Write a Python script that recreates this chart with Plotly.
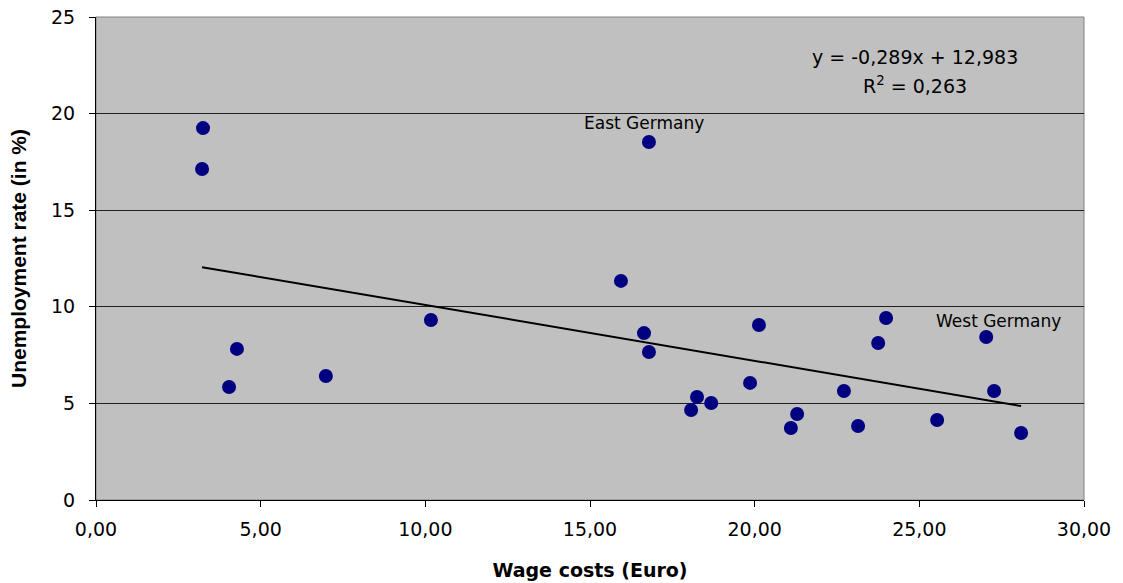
import numpy as np
import plotly.graph_objects as go

# Data
wage_costs = [3.25, 3.22, 4.04, 4.28, 6.98, 10.17, 15.94, 16.79, 16.64, 16.79,
              18.07, 18.25, 18.68, 19.86, 20.13, 21.10, 21.29, 22.71, 23.14, 23.75,
              23.99, 25.54, 27.03, 27.27, 28.09]
unemployment = [19.25, 17.13, 5.85, 7.82, 6.42, 9.32, 11.34, 18.53, 8.64, 7.66,
                4.66, 5.33, 5.02, 6.06, 9.06, 3.73, 4.45, 5.64, 3.83, 8.13,
                9.42, 4.14, 8.44, 5.64, 3.47]
trend_slope = -0.289
trend_intercept = 12.983
x_ticks = [0, 5, 10, 15, 20, 25, 30]
x_tick_labels = ["0,00", "5,00", "10,00", "15,00", "20,00", "25,00", "30,00"]
y_ticks = [0, 5, 10, 15, 20, 25]
labels = {"East Germany": (16.64, 19.51), "West Germany": (27.39, 9.27)}

fig = go.Figure()

fig.add_trace(go.Scatter(
    x=wage_costs, y=unemployment, mode="markers",
    marker=dict(color="#000080", size=14, line=dict(width=0)),
    showlegend=False, hoverinfo="x+y"))

tx = np.array([min(wage_costs), max(wage_costs)])
fig.add_trace(go.Scatter(
    x=tx, y=trend_slope * tx + trend_intercept, mode="lines",
    line=dict(color="black", width=2), showlegend=False, hoverinfo="skip"))

font_main = "DejaVu Sans, Arial, sans-serif"

fig.add_annotation(x=24.87, y=22.93, xref="x", yref="y",
                   text="y = -0,289x + 12,983", showarrow=False,
                   font=dict(family=font_main, size=19, color="black"))
fig.add_annotation(x=24.87, y=21.48, xref="x", yref="y",
                   text="R<sup>2</sup> = 0,263", showarrow=False,
                   font=dict(family=font_main, size=19, color="black"))
for name, (lx, ly) in labels.items():
    fig.add_annotation(x=lx, y=ly, xref="x", yref="y", text=name, showarrow=False,
                       font=dict(family=font_main, size=17, color="black"))

fig.add_shape(type="rect", xref="paper", yref="paper", x0=0, y0=0, x1=1, y1=1,
              line=dict(color="#808080", width=1), layer="below")

fig.update_layout(
    width=1123, height=583,
    margin=dict(l=96, r=39, t=17, b=83),
    paper_bgcolor="white", plot_bgcolor="#C0C0C0",
    xaxis=dict(range=[0, 30], tickvals=x_ticks, ticktext=x_tick_labels,
               automargin=False, ticklabelstandoff=6, ticklabeloverflow="allow",
               showgrid=False, zeroline=False, showline=True, linecolor="black",
               linewidth=1, ticks="outside", ticklen=6, tickcolor="black",
               tickfont=dict(family=font_main, size=19, color="black"),
               title=dict(text="<b>Wage costs (Euro)</b>", standoff=24,
                          font=dict(family=font_main, size=19, color="black"))),
    yaxis=dict(range=[0, 25], tickvals=y_ticks, showgrid=True, gridcolor="#202020",
               automargin=False, ticklabelstandoff=10, ticklabeloverflow="allow",
               gridwidth=1, zeroline=False, showline=True, linecolor="black",
               linewidth=1, ticks="outside", ticklen=6, tickcolor="black",
               tickfont=dict(family=font_main, size=19, color="black"),
               title=dict(text="<b>Unemployment rate (in %)</b>", standoff=18,
                          font=dict(family="Liberation Sans, Arial, sans-serif",
                                    size=21, color="black"))),
)

fig.write_html(
    "out.html",
    config={"displayModeBar": False},
    post_script="document.body.style.margin='0';document.body.style.overflow='hidden';",
)
